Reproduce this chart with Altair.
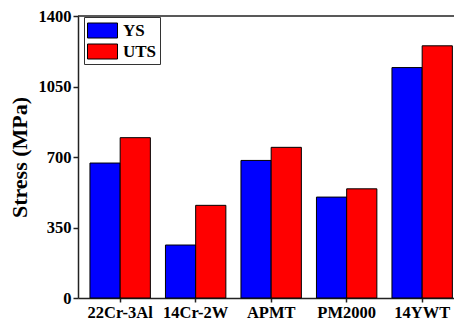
import altair as alt
import pandas as pd

alloys = ["22Cr-3Al", "14Cr-2W", "APMT", "PM2000", "14YWT"]
ys = [670, 263, 683, 501, 1144]
uts = [796, 460, 748, 542, 1252]
series = ["YS", "UTS"]
colors = ["#0000FF", "#FF0000"]
y_ticks = [0, 350, 700, 1050, 1400]

rows = []
for a, v1, v2 in zip(alloys, ys, uts):
    rows.append({"alloy": a, "series": "YS", "value": v1})
    rows.append({"alloy": a, "series": "UTS", "value": v2})
df = pd.DataFrame(rows)

FONT = "Liberation Serif"
YTITLE = "Stress (MPa)"
sym_path = "M-1,-0.75L2,-0.75L2,0.75L-1,0.75Z"

bars = alt.Chart(df).mark_bar(stroke="black", strokeWidth=1).encode(
    x=alt.X("alloy:N", sort=alloys, title=None,
            scale=alt.Scale(paddingInner=0.2, paddingOuter=0.09, align=0.88),
            axis=alt.Axis(labelAngle=0, labelFont=FONT, labelFontWeight="bold",
                          labelFontSize=16.5, labelColor="black", tickSize=4,
                          tickColor="#222", tickWidth=1.5, domainColor="#222",
                          domainWidth=1.5, labelPadding=2)),
    xOffset=alt.XOffset("series:N", sort=series,
                        scale=alt.Scale(paddingInner=0, paddingOuter=0)),
    y=alt.Y("value:Q", title=YTITLE,
            scale=alt.Scale(domain=[0, 1400], nice=False),
            axis=alt.Axis(values=y_ticks, format="d", grid=False, labelFont=FONT,
                          labelFontWeight="bold", labelFontSize=16.5,
                          labelColor="black", tickSize=5, tickColor="#222",
                          tickWidth=1.5, domainColor="#222", domainWidth=1.5,
                          labelPadding=2, titleFont=FONT, titleFontWeight="bold",
                          titleFontSize=22, titleColor="black", titlePadding=7)),
    color=alt.Color("series:N", sort=series,
                    scale=alt.Scale(domain=series, range=colors),
                    legend=alt.Legend(title=None, orient="none", legendX=6, legendY=1,
                                      symbolType=sym_path, symbolSize=400,
                                      symbolStrokeColor="black", symbolStrokeWidth=1,
                                      symbolOpacity=1,
                                      labelFont=FONT, labelFontWeight="bold",
                                      labelFontSize=17, labelColor="black",
                                      labelOffset=15, rowPadding=1, padding=3,
                                      strokeColor="#333", fillColor="white")),
)

top = alt.Chart(pd.DataFrame({"top": [y_ticks[-1]]})).mark_rule(
    color="#222", strokeWidth=1.5
).encode(y=alt.Y("top:Q", title=YTITLE))

chart = alt.layer(bars, top).properties(
    width=376, height=282,
    autosize=alt.AutoSizeParams(type="none"),
    padding={"left": 70, "top": 8, "right": 0, "bottom": 22},
).configure_view(stroke=None)

chart.save("out.html", embed_options={"renderer": "svg", "actions": False})
